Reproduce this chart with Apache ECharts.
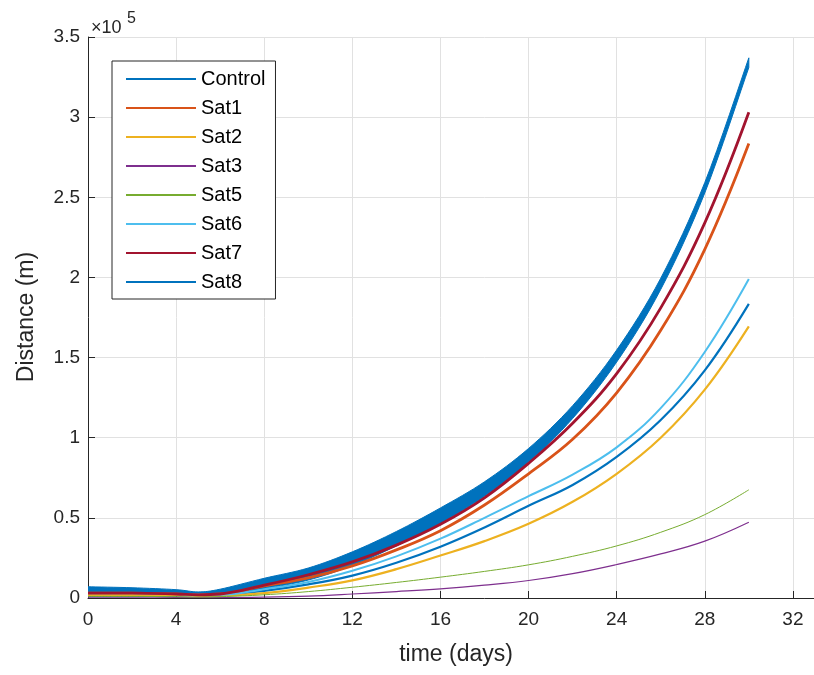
<!DOCTYPE html>
<html><head><meta charset="utf-8">
<script src="https://cdn.jsdelivr.net/npm/echarts@6/dist/echarts.min.js"></script>
<style>html,body{margin:0;padding:0;background:#fff;overflow:hidden}#c{width:900px;height:675px}</style>
</head><body><div id="c"></div>
<script>
// time samples (days)
const days = [0,2,4,5,6,8,10,12,14,16,18,20,22,24,26,28,30];
// distances in units of 1e5 m
const control = [0.03,0.03,0.025,0.02,0.02,0.045,0.085,0.14,0.22,0.32,0.44,0.575,0.705,0.88,1.11,1.42,1.835];
const sat1 = [0.03,0.03,0.025,0.02,0.025,0.075,0.125,0.20,0.30,0.42,0.58,0.775,0.99,1.28,1.67,2.175,2.835];
const sat2 = [0.02,0.02,0.02,0.015,0.015,0.03,0.065,0.11,0.18,0.265,0.355,0.463,0.60,0.775,1.00,1.30,1.695];
const sat3 = [0.005,0.005,0.004,0.003,0.002,0.005,0.012,0.025,0.04,0.057,0.08,0.109,0.152,0.209,0.275,0.355,0.473];
const sat5 = [0.01,0.01,0.008,0.006,0.008,0.02,0.04,0.067,0.097,0.13,0.166,0.207,0.26,0.325,0.41,0.52,0.675];
const sat6 = [0.03,0.03,0.025,0.02,0.02,0.055,0.10,0.17,0.26,0.37,0.50,0.635,0.77,0.94,1.185,1.535,1.99];
const sat7 = [0.03,0.03,0.025,0.02,0.025,0.08,0.145,0.225,0.33,0.46,0.625,0.84,1.09,1.40,1.81,2.34,3.03];
// Sat8 oscillates: lower / upper envelope of the band
const sat8Low  = [0.008,0.008,0.012,0.015,0.01,0.058,0.112,0.203,0.325,0.467,0.635,0.848,1.12,1.472,1.925,2.527,3.31];
const sat8High = [0.07,0.064,0.052,0.038,0.055,0.123,0.187,0.288,0.415,0.562,0.725,0.933,1.20,1.547,1.995,2.592,3.37];

const xTicks = {min:0, max:36, interval:4};
const yTicks = {min:0, max:3.5, interval:0.5};
const names = ['Control','Sat1','Sat2','Sat3','Sat5','Sat6','Sat7','Sat8'];
const colors = {Control:'#0072BD',Sat1:'#D95319',Sat2:'#EDB120',Sat3:'#7E2F8E',Sat5:'#77AC30',Sat6:'#4DBEEE',Sat7:'#A2142F',Sat8:'#0072BD'};

const FONT = 'Liberation Sans, Arial, Helvetica, sans-serif';
const pair = arr => days.map((t,i)=>[t,arr[i]]);
function lineSeries(name, arr, w){
  return {name, type:'line', data:pair(arr), showSymbol:false, smooth:0.4,
    color:colors[name], itemStyle:{color:colors[name]}, lineStyle:{color:colors[name], width:w}, emphasis:{disabled:true}};
}
// pixel-space Catmull-Rom sampling for drawing the band outline smoothly
function spline(P){
  const out=[], m=P.length, S=8;
  for (let i=0;i<m-1;i++){
    const p0=P[Math.max(i-1,0)], p1=P[i], p2=P[i+1], p3=P[Math.min(i+2,m-1)];
    for (let k=0;k<S;k++){
      const s=k/S, s2=s*s, s3=s2*s;
      out.push([0,1].map(j=>0.5*((2*p1[j])+(-p0[j]+p2[j])*s+(2*p0[j]-5*p1[j]+4*p2[j]-p3[j])*s2+(-p0[j]+3*p1[j]-3*p2[j]+p3[j])*s3)));
    }
  }
  out.push(P[m-1]);
  return out;
}
const n = days.length;
const series = [
  lineSeries('Control', control, 2.2),
  lineSeries('Sat1', sat1, 2.8),
  lineSeries('Sat2', sat2, 2.2),
  lineSeries('Sat3', sat3, 1.2),
  lineSeries('Sat5', sat5, 1),
  lineSeries('Sat6', sat6, 2),
  lineSeries('Sat7', sat7, 2.8),
  {name:'Sat8', type:'custom', clip:true,
   data: days.map((t,i)=>[t, sat8Low[i], sat8High[i]]),
   encode:{x:0, y:[1,2]},
   itemStyle:{color:colors.Sat8},
   emphasis:{disabled:true},
   renderItem:function(params, api){
     if (params.dataIndexInside !== 0) return null;
     const lo=[], hi=[];
     for (let i=0;i<n;i++){
       lo.push(api.coord([api.value(0,i), api.value(1,i)]));
       hi.push(api.coord([api.value(0,i), api.value(2,i)]));
     }
     const pts = spline(lo).concat(spline(hi).reverse());
     return {type:'polygon', shape:{points:pts},
       style:{fill:colors.Sat8, stroke:colors.Sat8, lineWidth:1, lineJoin:'round'}};
   }}
];

const chart = echarts.init(document.getElementById('c'), null, {renderer:'canvas'});
chart.setOption({
  animation:false,
  backgroundColor:'#fff',
  grid:{left:88, top:37, width:793, height:561, containLabel:false},
  xAxis:{type:'value', min:xTicks.min, max:xTicks.max, interval:xTicks.interval,
    axisLine:{show:true, onZero:false, lineStyle:{color:'#262626', width:1}},
    axisTick:{show:true, inside:true, length:7, lineStyle:{color:'#262626'}},
    axisLabel:{fontSize:19, color:'#262626', margin:12, fontFamily:FONT},
    splitLine:{show:true, lineStyle:{color:'#e1e1e1', width:1}}},
  yAxis:{type:'value', min:yTicks.min, max:yTicks.max, interval:yTicks.interval,
    axisLine:{show:true, onZero:false, lineStyle:{color:'#262626', width:1}},
    axisTick:{show:true, inside:true, length:7, lineStyle:{color:'#262626'}},
    axisLabel:{fontSize:19, color:'#262626', margin:8, fontFamily:FONT},
    splitLine:{show:true, lineStyle:{color:'#e1e1e1', width:1}}},
  legend:{orient:'vertical', left:112, top:61, padding:[8,10,7,14], itemGap:9,
    itemWidth:70, itemHeight:2, icon:'rect', selectedMode:false,
    backgroundColor:'#fff', borderColor:'#262626', borderWidth:1, borderRadius:0,
    textStyle:{fontSize:20, lineHeight:19, color:'#000', fontFamily:FONT},
    data:names},
  graphic:[
    {type:'text', x:456, y:655, style:{text:'time (days)', fontSize:23, fontFamily:FONT, fill:'#262626', align:'center', verticalAlign:'middle'}},
    {type:'text', x:27, y:317, rotation:Math.PI/2, style:{text:'Distance (m)', fontSize:23, fontFamily:FONT, fill:'#262626', align:'center', verticalAlign:'middle'}},
    {type:'text', x:91, y:19, style:{text:'×10', fontSize:18, fontFamily:FONT, fill:'#262626', align:'left', verticalAlign:'top'}},
    {type:'text', x:127, y:11, style:{text:'5', fontSize:16, fontFamily:FONT, fill:'#262626', align:'left', verticalAlign:'top'}}
  ],
  series
});
</script></body></html>
